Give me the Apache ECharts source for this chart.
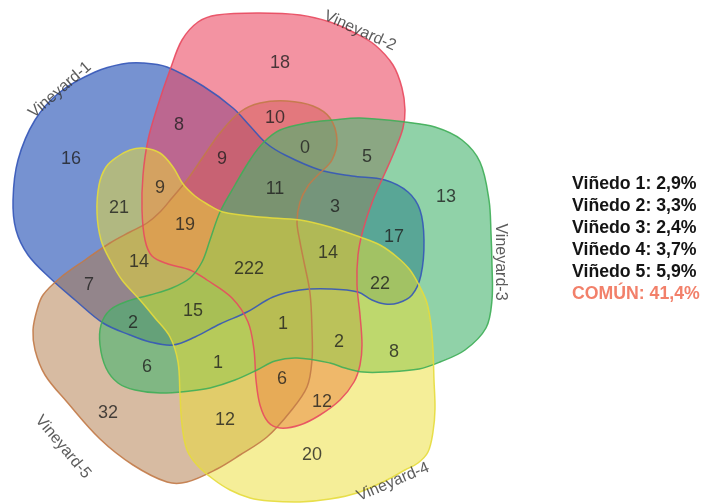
<!DOCTYPE html>
<html>
<head>
<meta charset="utf-8">
<script src="https://cdn.jsdelivr.net/npm/echarts@6/dist/echarts.min.js"></script>
<style>
html,body{margin:0;padding:0;background:#fff;}
#chart{width:704px;height:504px;}
</style>
</head>
<body>
<div id="chart"></div>
<script>
// Set names and the number of shared elements in each of the 31 Venn regions
const setNames = ['Vineyard-1', 'Vineyard-2', 'Vineyard-3', 'Vineyard-4', 'Vineyard-5'];

// region membership (set numbers) and its count
const regionSets = [
  '1', '2', '3', '4', '5',
  '1-2', '2-5', '2-3', '1-4', '1-3', '1-5', '3-5', '4-5', '2-4', '3-4',
  '2-3-5', '1-2-5', '1-2-4', '1-2-3', '1-3-4', '1-4-5', '1-3-5', '3-4-5', '2-4-5', '2-3-4',
  '1-2-4-5', '1-2-3-5', '1-2-3-4', '1-3-4-5', '2-3-4-5',
  '1-2-3-4-5'
];
const regionCounts = [
  16, 18, 13, 20, 32,
  8, 10, 5, 21, 17, 7, 6, 12, 12, 8,
  0, 9, 9, 3, 22, 14, 2, 1, 6, 2,
  19, 11, 14, 15, 1,
  222
];

// percentage summary shown at the right
const summaryLabels = ['Viñedo 1', 'Viñedo 2', 'Viñedo 3', 'Viñedo 4', 'Viñedo 5', 'COMÚN'];
const summaryShares = ['2,9', '3,3', '2,4', '3,7', '5,9', '41,4'];

// ---- layout (drawing space is 704 x 504, y pointing down) ----
const outlines = [
  [[143,63],[167,67],[203,86],[233,108],[250,126],[266,143],[285,155],[320,170],[352,176],[385,180],[408,192],[420,210],[424,240],[421,275],[412,295],[398,303],[385,304],[372,300],[358,292],[330,289],[300,290],[273,297],[247,312],[220,324],[195,337],[173,345],[150,342],[130,335],[103,323],[75,300],[50,278],[28,255],[16,230],[13,200],[18,160],[35,120],[60,92],[95,72],[122,64]],
  [[217,15],[260,13],[300,15],[330,22],[355,33],[375,45],[393,65],[402,88],[405,110],[403,128],[395,150],[385,173],[373,200],[363,230],[358,255],[357,285],[360,315],[362,345],[360,365],[354,382],[340,400],[320,415],[300,425],[280,428],[268,422],[260,405],[256,380],[254,350],[248,322],[232,298],[207,280],[190,270],[168,264],[152,256],[145,240],[142,210],[143,175],[148,140],[158,105],[170,70],[182,40],[198,22]],
  [[263,143],[280,130],[307,123],[333,120],[360,118],[405,122],[435,127],[462,140],[480,162],[489,200],[491,233],[492,265],[492,300],[486,328],[465,350],[440,362],[419,369],[385,372],[363,372],[345,368],[330,363],[297,358],[275,361],[257,370],[235,380],[210,388],[190,391],[160,393],[135,390],[118,383],[106,368],[100,345],[101,325],[110,310],[128,301],[150,295],[172,288],[190,278],[202,262],[210,240],[220,212],[235,185],[250,160]],
  [[97,213],[99,185],[106,167],[117,157],[130,150],[143,148],[160,153],[173,167],[183,184],[195,196],[207,204],[223,212],[260,217],[300,220],[330,227],[360,237],[380,245],[397,257],[410,270],[420,287],[427,303],[431,325],[433,350],[434,380],[435,409],[433,432],[428,452],[418,463],[405,470],[387,480],[357,493],[330,499],[300,502],[270,501],[250,498],[230,490],[213,479],[197,465],[187,450],[182,425],[180,395],[178,362],[170,337],[155,318],[140,300],[122,280],[110,260],[101,240]],
  [[43,295],[60,278],[85,260],[110,243],[130,232],[147,223],[160,212],[172,198],[187,180],[203,157],[220,133],[240,112],[260,103],[287,101],[313,106],[330,118],[337,140],[332,160],[320,173],[308,186],[300,202],[297,222],[300,242],[304,262],[310,293],[312,330],[312,360],[307,387],[290,412],[267,437],[240,455],[217,469],[187,482],[167,482],[133,465],[100,439],[67,402],[45,375],[35,350],[33,330],[37,310]]
];
const fills = ['rgba(60,100,190,0.7)', 'rgba(235,75,100,0.6)', 'rgba(70,180,110,0.6)', 'rgba(235,222,50,0.5)', 'rgba(175,120,70,0.5)'];
const strokes = ['#3556b8', '#e84a5f', '#3fae58', '#e6dc3c', '#c27a48'];
// painting order of the filled shapes
const paintOrder = [0, 4, 1, 2, 3];

// anchor point of every region's count, in the same order as regionCounts
const regionAnchors = [
  [71,159], [280,63], [446,197], [312,455], [108,413],
  [179,125], [275,118], [367,157], [119,208], [394,237], [89,285], [147,367], [225,420], [322,402], [394,352],
  [305,148], [222,159], [160,188], [335,207], [380,284], [139,262], [133,323], [218,363], [282,379], [339,342],
  [185,225], [275,189], [328,253], [193,311], [283,324],
  [249,269]
];
// set name anchors and rotation (degrees)
const nameAnchors = [[60,90], [360,31], [500,262], [393,482], [63,447]];
const nameRotations = [41, -24, -90, 23, -50];

const chart = echarts.init(document.getElementById('chart'), null, {renderer: 'canvas'});

function shapeSeries(withFill) {
  return {
    type: 'custom',
    coordinateSystem: 'cartesian2d',
    silent: true,
    data: paintOrder.map(i => [i]),
    renderItem: function (params, api) {
      const i = api.value(0);
      const pts = outlines[i].map(p => api.coord(p));
      return {
        type: 'polygon',
        shape: {points: pts, smooth: 0.35},
        style: withFill
          ? {fill: fills[i], stroke: null}
          : {fill: null, stroke: strokes[i], lineWidth: 1.5, opacity: 0.9}
      };
    },
    z: withFill ? 1 : 2
  };
}

const countSeries = {
  type: 'scatter',
  symbolSize: 0,
  silent: true,
  data: regionCounts.map((c, i) => ({value: [regionAnchors[i][0], regionAnchors[i][1], c], name: regionSets[i]})),
  label: {
    show: true,
    position: 'inside',
    formatter: p => String(p.value[2]),
    fontFamily: 'Liberation Sans, Arial, sans-serif',
    fontSize: 18,
    color: '#1e1e1e'
  },
  z: 5
};

const nameSeries = {
  type: 'scatter',
  symbolSize: 0,
  silent: true,
  data: setNames.map((n, i) => ({
    value: [nameAnchors[i][0], nameAnchors[i][1]],
    name: n,
    label: {rotate: nameRotations[i]}
  })),
  label: {
    show: true,
    position: 'inside',
    formatter: p => p.name,
    fontFamily: 'Liberation Sans, Arial, sans-serif',
    fontSize: 16,
    color: '#333'
  },
  z: 5
};

const summary = summaryLabels.map((lab, i) => ({
  type: 'text',
  left: 572,
  top: 175 + i * 22,
  style: {
    text: lab + ': ' + summaryShares[i] + '%',
    font: 'bold 17.7px "Liberation Sans", Arial, sans-serif',
    fill: i === summaryLabels.length - 1 ? '#f2806a' : '#141414'
  }
}));

chart.setOption({
  animation: false,
  backgroundColor: '#ffffff',
  grid: {left: 0, right: 0, top: 0, bottom: 0},
  xAxis: {type: 'value', min: 0, max: 704, show: false},
  yAxis: {type: 'value', min: 0, max: 504, inverse: true, show: false},
  series: [shapeSeries(true), shapeSeries(false), countSeries, nameSeries],
  graphic: summary
});
</script>
</body>
</html>
